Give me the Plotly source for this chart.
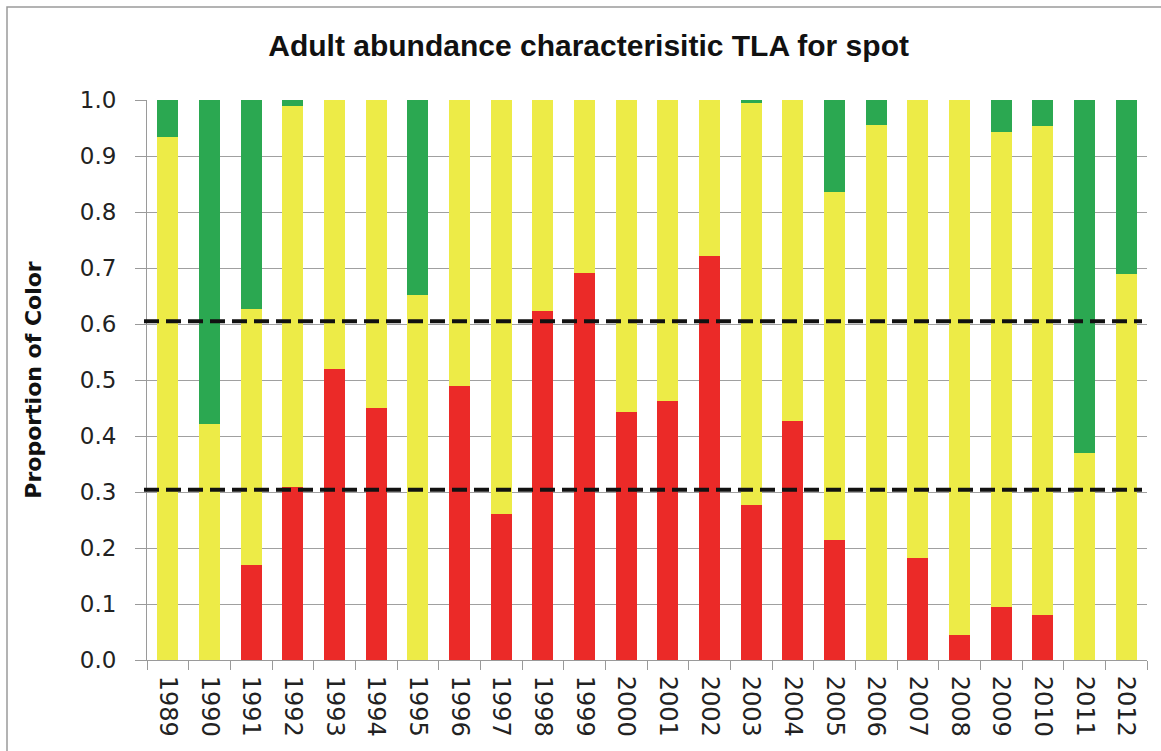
import plotly.graph_objects as go

years = [str(y) for y in range(1989, 2013)]
red = [0.0, 0.0, 0.169, 0.309, 0.520, 0.450, 0.0, 0.490, 0.260, 0.623, 0.691, 0.443,
       0.462, 0.721, 0.277, 0.427, 0.214, 0.0, 0.183, 0.044, 0.095, 0.081, 0.0, 0.0]
yellow = [0.934, 0.422, 0.458, 0.680, 0.480, 0.550, 0.651, 0.510, 0.740, 0.377, 0.309, 0.557,
          0.538, 0.279, 0.717, 0.573, 0.622, 0.956, 0.817, 0.956, 0.847, 0.872, 0.369, 0.689]
green = [0.066, 0.578, 0.373, 0.011, 0.0, 0.0, 0.349, 0.0, 0.0, 0.0, 0.0, 0.0,
         0.0, 0.0, 0.006, 0.0, 0.164, 0.044, 0.0, 0.0, 0.058, 0.047, 0.631, 0.311]
thresholds = [0.304, 0.605]

RED = "#EB2A28"
YELLOW = "#EDEB47"
GREEN = "#2BA851"

fig = go.Figure()
for name, vals, col in [("Red", red, RED), ("Yellow", yellow, YELLOW), ("Green", green, GREEN)]:
    fig.add_trace(go.Bar(x=years, y=vals, name=name, marker=dict(color=col, line=dict(width=0))))

for t in thresholds:
    fig.add_shape(type="line", xref="paper", yref="y", x0=-0.003, x1=0.995, y0=t, y1=t,
                  line=dict(color="#111111", width=4, dash="15px,7px"), layer="above")

# outer chart frame (only left and top visible in the reference)
fig.add_shape(type="rect", xref="paper", yref="paper", x0=-0.14, x1=1.03, y0=-0.2, y1=1.166,
              line=dict(color="#9a9a9a", width=1.5), layer="below")

fig.update_layout(
    barmode="stack",
    bargap=0.5,
    width=1161, height=751,
    margin=dict(l=147, r=14, t=100, b=91),
    paper_bgcolor="white", plot_bgcolor="white",
    showlegend=False,
    title=dict(text="<b>Adult abundance characterisitic TLA for spot</b>",
               x=0.507, xref="container", xanchor="center", y=0.94, yanchor="middle",
               font=dict(family="Liberation Sans Narrow, Liberation Sans, Arial", size=30, color="#111111")),
    font=dict(family="DejaVu Sans, Verdana, sans-serif", color="#222222"),
)
fig.update_xaxes(
    type="category", tickangle=90, tickson="boundaries", ticks="outside", ticklen=9,
    tickcolor="#9a9a9a", showline=True, linecolor="#9a9a9a", linewidth=1,
    tickfont=dict(size=24, color="#222222"), showgrid=False, ticklabelstandoff=10,
)
fig.update_yaxes(
    range=[0, 1], dtick=0.1, tickformat=".1f", ticks="outside", ticklen=11,
    tickcolor="#9a9a9a", showline=True, linecolor="#9a9a9a", linewidth=1,
    showgrid=True, gridcolor="#a0a0a0", gridwidth=1, zeroline=False,
    tickfont=dict(size=23, color="#222222"), ticklabelstandoff=14,
    title=dict(text="<b>Proportion of Color</b>", standoff=32,
               font=dict(family="DejaVu Sans, Verdana, sans-serif", size=22, color="#111111")),
)

fig.write_html("out.html", config={"displayModeBar": False},
               post_script="document.body.style.margin='0';")
